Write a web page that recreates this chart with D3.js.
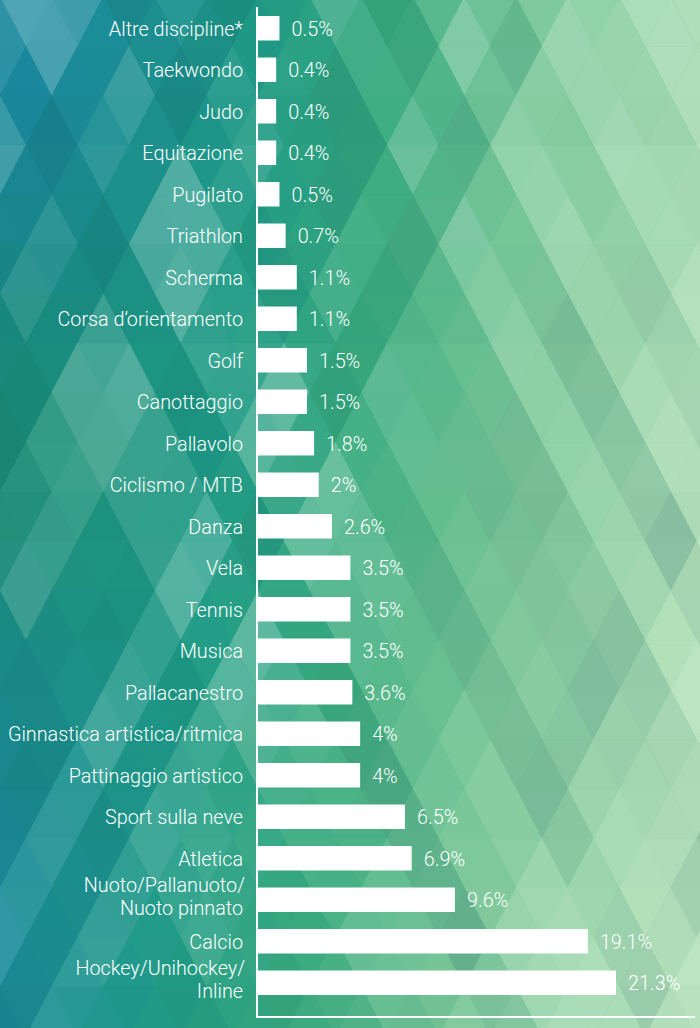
<!DOCTYPE html>
<html><head><meta charset="utf-8">
<script src="https://cdn.jsdelivr.net/npm/d3@7"></script>
<style>html,body{margin:0;padding:0;background:#3aa880;overflow:hidden} svg{display:block}</style>
</head><body><svg id="c" width="700" height="1028"></svg>
<script>
// ---- data ----
const categories = ["Altre discipline*","Taekwondo","Judo","Equitazione","Pugilato","Triathlon","Scherma","Corsa d’orientamento","Golf","Canottaggio","Pallavolo","Ciclismo / MTB","Danza","Vela","Tennis","Musica","Pallacanestro","Ginnastica artistica/ritmica","Pattinaggio artistico","Sport sulla neve","Atletica","Nuoto/Pallanuoto/|Nuoto pinnato","Calcio","Hockey/Unihockey/|Inline"];
const values = [0.5,0.4,0.4,0.4,0.5,0.7,1.1,1.1,1.5,1.5,1.8,2,2.6,3.5,3.5,3.5,3.6,4,4,6.5,6.9,9.6,19.1,21.3];
const valueLabels = ["0.5%","0.4%","0.4%","0.4%","0.5%","0.7%","1.1%","1.1%","1.5%","1.5%","1.8%","2%","2.6%","3.5%","3.5%","3.5%","3.6%","4%","4%","6.5%","6.9%","9.6%","19.1%","21.3%"];

const W = 700, H = 1028;
const svg = d3.select("#c");

// ---- background: triangle mosaic ----
const bg = svg.append("g");
const TW = 51.6, TH = 49.5, Y0 = -3;
const midColor = d3.scaleLinear()
  .domain([0.3, 0.5, 0.72, 1])
  .range(["#1f9a86", "#3aab7e", "#7cc89a", "#b6e2bc"])
  .interpolate(d3.interpolateRgb);
function hash(n){ const s = Math.sin(n*127.1 + 311.7)*43758.5453; return s - Math.floor(s); }
function baseAt(cx, cy){
  const t = Math.max(0, Math.min(1, (cx + 0.1*(cy - 514))/700));
  const f = Math.exp(-Math.pow((cy - 470)/260, 2));
  const left = d3.interpolateRgb("#1a88a2", "#198a74")(f);
  if (t < 0.3) return d3.interpolateRgb(left, "#1f9a86")(t/0.3);
  return midColor(t);
}
function shade(cx, cy){
  const u = cx + (cy - Y0)*(TW/2)/TH;
  const v = cx - (cy - Y0)*(TW/2)/TH;
  const a = Math.floor(u/TW), b = Math.floor(v/TW), r = Math.floor((cy - Y0)/TH);
  const k = (hash(a*3.1+7) - 0.5)*0.36 + (hash(b*5.7+13) - 0.5)*0.30
          + (hash(r*2.3+1.9) - 0.5)*0.06 + (hash(a*17.3 + b*31.1 + 0.7) - 0.5)*0.10;
  const c = d3.rgb(baseAt(cx, cy));
  return k >= 0 ? d3.interpolateRgb(c, "#eaf9ee")(k*0.9) : d3.interpolateRgb(c, "#0b5656")(-k*0.7);
}
const tris = [];
for (let r = 0; r*TH + Y0 < H; r++) {
  const yT = Y0 + r*TH, yB = yT + TH;
  const off = (r % 2) * TW/2;
  for (let k = -2; k*TW + off < W + TW; k++) {
    const xT = off + k*TW;
    tris.push([[xT, yT],[xT+TW, yT],[xT+TW/2, yB]]);
    tris.push([[xT-TW/2, yB],[xT+TW/2, yB],[xT, yT]]);
  }
}
bg.selectAll("path").data(tris).join("path")
  .attr("d", d => "M" + d.map(p => p.join(",")).join("L") + "Z")
  .each(function(d){
    const cx = (d[0][0]+d[1][0]+d[2][0])/3, cy = (d[0][1]+d[1][1]+d[2][1])/3;
    const col = shade(cx, cy);
    d3.select(this).attr("fill", col).attr("stroke", col).attr("stroke-width", 0.6);
  });

// ---- chart ----
const x0 = 258;
const x = d3.scalePow().exponent(0.75).domain([0, 21.3]).range([x0, x0 + 358]);
const y = d3.scaleBand().domain(categories).range([7.5, 1003.5]).paddingInner(0.41).paddingOuter(0.205);
const font = "Roboto, 'Open Sans', sans-serif";
const fs = "19.8px";

const g = svg.append("g");
g.selectAll("rect.bar").data(categories).join("rect")
  .attr("class","bar")
  .attr("x", x(0))
  .attr("y", d => y(d))
  .attr("width", (d,i) => x(values[i]) - x(0))
  .attr("height", y.bandwidth())
  .attr("fill", "#fff");

g.selectAll("text.val").data(categories).join("text")
  .attr("class","val")
  .attr("x", (d,i) => x(values[i]) + 12)
  .attr("y", d => y(d) + y.bandwidth()/2 + 7.5)
  .attr("fill", "#fff")
  .style("font-family", font).style("font-size", fs).style("font-weight", 300)
  .text((d,i) => valueLabels[i]);

const labels = g.selectAll("text.cat").data(categories).join("text")
  .attr("class","cat")
  .attr("text-anchor","end")
  .attr("fill","#fff")
  .style("font-family", font).style("font-size", fs).style("font-weight", 300);
labels.each(function(d){
  const lines = d.split("|");
  const cy = y(d) + y.bandwidth()/2;
  const t = d3.select(this);
  if (lines.length === 1) {
    t.append("tspan").attr("x", 243).attr("y", cy + 7.5).text(lines[0]);
  } else {
    t.append("tspan").attr("x", 245).attr("y", cy - 8).text(lines[0]);
    t.append("tspan").attr("x", 243).attr("y", cy + 15).text(lines[1]);
  }
});

// axis lines
g.append("line").attr("x1", 257).attr("x2", 257).attr("y1", 7).attr("y2", 1018)
  .attr("stroke","#fff").attr("stroke-width",2);
g.append("line").attr("x1", 256).attr("x2", 695).attr("y1", 1017).attr("y2", 1017)
  .attr("stroke","#fff").attr("stroke-width",2);
</script></body></html>
